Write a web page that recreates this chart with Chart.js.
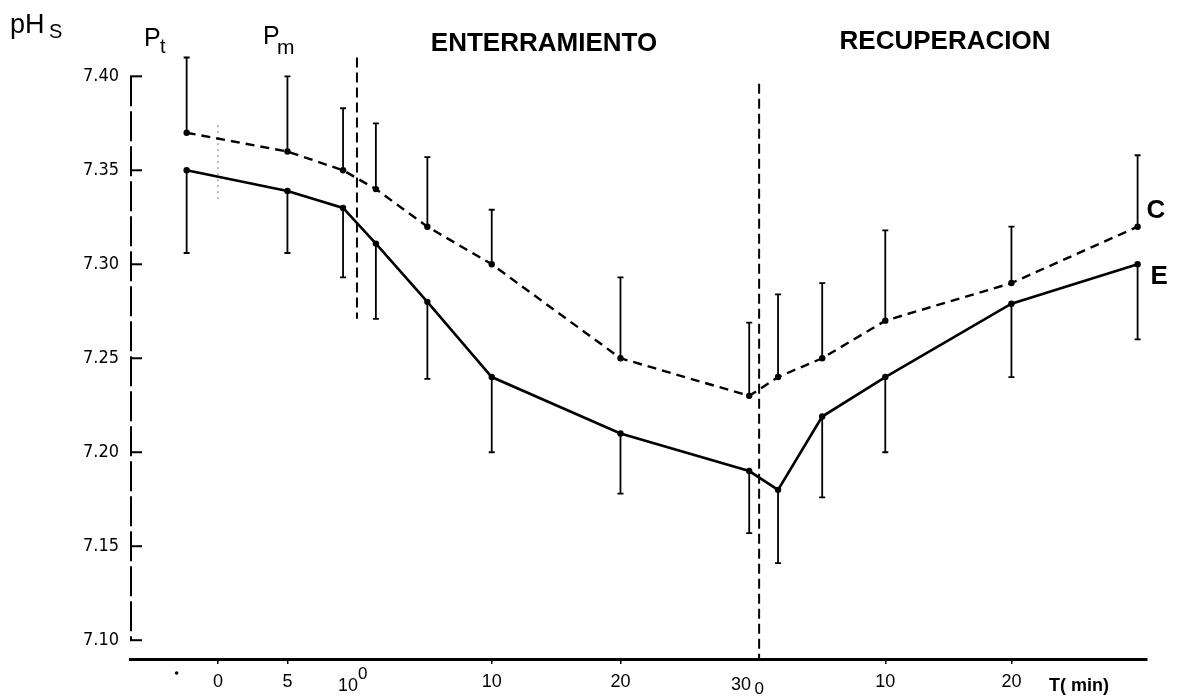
<!DOCTYPE html>
<html>
<head>
<meta charset="utf-8">
<script src="https://cdn.jsdelivr.net/npm/chart.js@4/dist/chart.umd.min.js"></script>
<style>
  html, body { margin: 0; padding: 0; background: #fff; }
  #wrap { width: 1179px; height: 700px; position: relative; }
</style>
</head>
<body>
<div id="wrap"><canvas id="c" width="1179" height="700"></canvas></div>
<script>
// Blood pH (pH_S) before, during burial (ENTERRAMIENTO) and recovery (RECUPERACION)
// C = control group (dashed, SD drawn upward), E = experimental group (solid, SD drawn downward)

const phaseOf  = ['Pt', 'Pm', 'Pm', 'Ent', 'Ent', 'Ent', 'Ent', 'Ent', 'Rec', 'Rec', 'Rec', 'Rec', 'Rec'];
const minuteOf = [0, 5, 9, 1, 5, 10, 20, 30, 1.5, 5, 10, 20, 30];

const groupC = [7.37, 7.36, 7.35, 7.34, 7.32, 7.30, 7.25, 7.23, 7.24, 7.25, 7.27, 7.29, 7.32];
const sdC    = [0.040, 0.040, 0.033, 0.035, 0.037, 0.029, 0.043, 0.039, 0.044, 0.040, 0.048, 0.030, 0.038];

const groupE = [7.35, 7.339, 7.33, 7.311, 7.28, 7.24, 7.21, 7.19, 7.18, 7.219, 7.24, 7.279, 7.30];
const sdE    = [0.044, 0.033, 0.037, 0.040, 0.041, 0.040, 0.032, 0.033, 0.039, 0.043, 0.040, 0.039, 0.040];

const yTicks = [7.10, 7.15, 7.20, 7.25, 7.30, 7.35, 7.40];

const xTickPhase  = ['Pm', 'Pm', 'Ent', 'Ent', 'Rec', 'Rec'];
const xTickMinute = [0, 5, 10, 20, 10, 20];
const xTickLabels = ['0', '5', '10', '20', '10', '20'];

// where each phase sits on the continuous time axis, and its minute spacing
const PHASE = {
  Pt:  { start: -13.7,  rate: 1.00 },
  Pm:  { start: -11.27, rate: 1.08 },
  Ent: { start: 0,      rate: 1.00 },
  Rec: { start: 30.77,  rate: 0.98 }
};
const t = (phase, minute) => PHASE[phase].start + PHASE[phase].rate * minute;

const Y_MIN = 7.09, Y_MAX = 7.414;

const INK = '#000';
const FONT = '"Liberation Sans", Arial, sans-serif';
const NARROW = '"Liberation Sans Narrow", "DejaVu Sans Condensed", "Liberation Sans", sans-serif';

const decor = {
  id: 'decor',
  beforeDatasetsDraw(chart) {
    const { ctx, chartArea: a } = chart;
    const xs = chart.scales.x, ys = chart.scales.y;
    ctx.save();
    ctx.strokeStyle = INK;
    ctx.lineCap = 'butt';

    // left axis (broken, from 7.40 down to 7.10)
    ctx.lineWidth = 2;
    ctx.setLineDash([30, 5]);
    ctx.beginPath();
    ctx.moveTo(a.left + 1, ys.getPixelForValue(7.40));
    ctx.lineTo(a.left + 1, ys.getPixelForValue(7.10));
    ctx.stroke();
    ctx.setLineDash([]);
    // inward tick marks
    yTicks.forEach(v => {
      const y = ys.getPixelForValue(v);
      ctx.beginPath();
      ctx.moveTo(a.left, y);
      ctx.lineTo(a.left + 12, y);
      ctx.stroke();
    });

    // phase separators
    ctx.lineWidth = 2;
    ctx.setLineDash([10, 5]);
    let x = xs.getPixelForValue(t('Pm', 10));
    ctx.beginPath();
    ctx.moveTo(x, ys.getPixelForValue(7.41));
    ctx.lineTo(x, ys.getPixelForValue(7.271));
    ctx.stroke();
    x = xs.getPixelForValue(t('Rec', 0));
    ctx.beginPath();
    ctx.moveTo(x, ys.getPixelForValue(7.396));
    ctx.lineTo(x, a.bottom);
    ctx.stroke();
    // faint mark at the start of Pm
    ctx.lineWidth = 1;
    ctx.strokeStyle = '#777';
    ctx.setLineDash([2, 4]);
    x = xs.getPixelForValue(t('Pm', 0));
    ctx.beginPath();
    ctx.moveTo(x, ys.getPixelForValue(7.374));
    ctx.lineTo(x, ys.getPixelForValue(7.334));
    ctx.stroke();
    ctx.setLineDash([]);
    ctx.strokeStyle = INK;

    // standard deviation bars
    ctx.lineWidth = 1.8;
    const bar = (px, y0, y1) => {
      ctx.beginPath();
      ctx.moveTo(px, y0);
      ctx.lineTo(px, y1);
      ctx.moveTo(px - 3, y1);
      ctx.lineTo(px + 3, y1);
      ctx.stroke();
    };
    phaseOf.forEach((p, i) => {
      const px = xs.getPixelForValue(t(p, minuteOf[i]));
      bar(px, ys.getPixelForValue(groupC[i]), ys.getPixelForValue(groupC[i] + sdC[i]));
      bar(px, ys.getPixelForValue(groupE[i]), ys.getPixelForValue(groupE[i] - sdE[i]));
    });
    ctx.restore();
  },
  afterDraw(chart) {
    const { ctx } = chart;
    const xs = chart.scales.x, ys = chart.scales.y;
    ctx.save();
    ctx.fillStyle = INK;
    ctx.textBaseline = 'alphabetic';

    // axis title pH_S
    ctx.textAlign = 'left';
    ctx.font = '27px ' + FONT;
    ctx.fillText('pH', 10, 33);
    ctx.font = '20px ' + FONT;
    ctx.fillText('S', 49, 38);

    // P_t and P_m
    ctx.font = '25px ' + FONT;
    ctx.fillText('P', 144, 46);
    ctx.font = '20px ' + FONT;
    ctx.fillText('t', 160, 53);
    ctx.font = '25px ' + FONT;
    ctx.fillText('P', 263, 44);
    ctx.font = '21px ' + FONT;
    ctx.fillText('m', 277, 54);

    // phase titles
    ctx.textAlign = 'center';
    ctx.font = 'bold 26px ' + FONT;
    ctx.fillText('ENTERRAMIENTO', 544, 51);
    ctx.fillText('RECUPERACION', 945, 49);

    // series names at the line ends
    ctx.textAlign = 'left';
    ctx.font = 'bold 26px ' + FONT;
    const last = groupC.length - 1;
    const xe = xs.getPixelForValue(t(phaseOf[last], minuteOf[last]));
    ctx.fillText('C', xe + 9, ys.getPixelForValue(groupC[last]) - 9);
    ctx.fillText('E', xe + 13, ys.getPixelForValue(groupE[last]) + 20);

    // composite labels at the phase boundaries
    ctx.font = '18px ' + FONT;
    ctx.textAlign = 'right';
    let bx = xs.getPixelForValue(t('Pm', 10));
    ctx.fillText('10', bx + 1, 691);
    ctx.textAlign = 'left';
    ctx.font = '17px ' + FONT;
    ctx.fillText('0', bx + 1, 679);

    bx = xs.getPixelForValue(t('Rec', 0));
    ctx.font = '18px ' + FONT;
    ctx.textAlign = 'right';
    ctx.fillText('30', bx - 8, 690);
    ctx.textAlign = 'center';
    ctx.font = '17px ' + FONT;
    ctx.fillText('0', bx, 694);

    // time unit
    ctx.textAlign = 'left';
    ctx.font = 'bold 18px ' + FONT;
    ctx.fillText('T( min)', 1049, 691);

    // mark for P_t below the axis
    ctx.beginPath();
    ctx.arc(xs.getPixelForValue(t('Pt', 0)) - 10, 673, 1.8, 0, Math.PI * 2);
    ctx.fill();
    ctx.restore();
  }
};

const pts = arr => arr.map((v, i) => ({ x: t(phaseOf[i], minuteOf[i]), y: v }));

new Chart(document.getElementById('c'), {
  type: 'line',
  data: {
    datasets: [
      {
        label: 'C',
        data: pts(groupC),
        borderColor: INK,
        borderWidth: 2.4,
        borderDash: [9, 6],
        pointRadius: 3.2,
        pointBackgroundColor: INK,
        pointBorderWidth: 0,
        tension: 0,
        fill: false
      },
      {
        label: 'E',
        data: pts(groupE),
        borderColor: INK,
        borderWidth: 2.6,
        pointRadius: 3.2,
        pointBackgroundColor: INK,
        pointBorderWidth: 0,
        tension: 0,
        fill: false
      }
    ]
  },
  options: {
    responsive: false,
    animation: false,
    devicePixelRatio: 1,
    layout: { padding: { top: 50, right: 32, left: 0, bottom: 0 } },
    plugins: { legend: { display: false }, tooltip: { enabled: false } },
    scales: {
      x: {
        type: 'linear',
        min: -18.1,
        max: 60.9,
        afterBuildTicks: s => { s.ticks = xTickPhase.map((p, i) => ({ value: t(p, xTickMinute[i]) })); },
        afterFit: s => { s.height = 41; },
        ticks: {
          autoSkip: false,
          maxRotation: 0,
          padding: 7,
          color: INK,
          font: { family: FONT, size: 18 },
          callback: (v, i) => xTickLabels[i]
        },
        grid: { display: true, drawOnChartArea: false, drawTicks: true, tickLength: 5, color: INK, lineWidth: 1.5 },
        border: { display: true, color: INK, width: 3 }
      },
      y: {
        type: 'linear',
        min: Y_MIN,
        max: Y_MAX,
        afterBuildTicks: s => { s.ticks = yTicks.map(v => ({ value: v })); },
        afterFit: s => { s.width = 130; },
        ticks: {
          padding: 3,
          color: INK,
          font: { family: NARROW, size: 18 },
          callback: v => v.toFixed(2)
        },
        grid: { display: false },
        border: { display: false }
      }
    }
  },
  plugins: [decor]
});
</script>
</body>
</html>
